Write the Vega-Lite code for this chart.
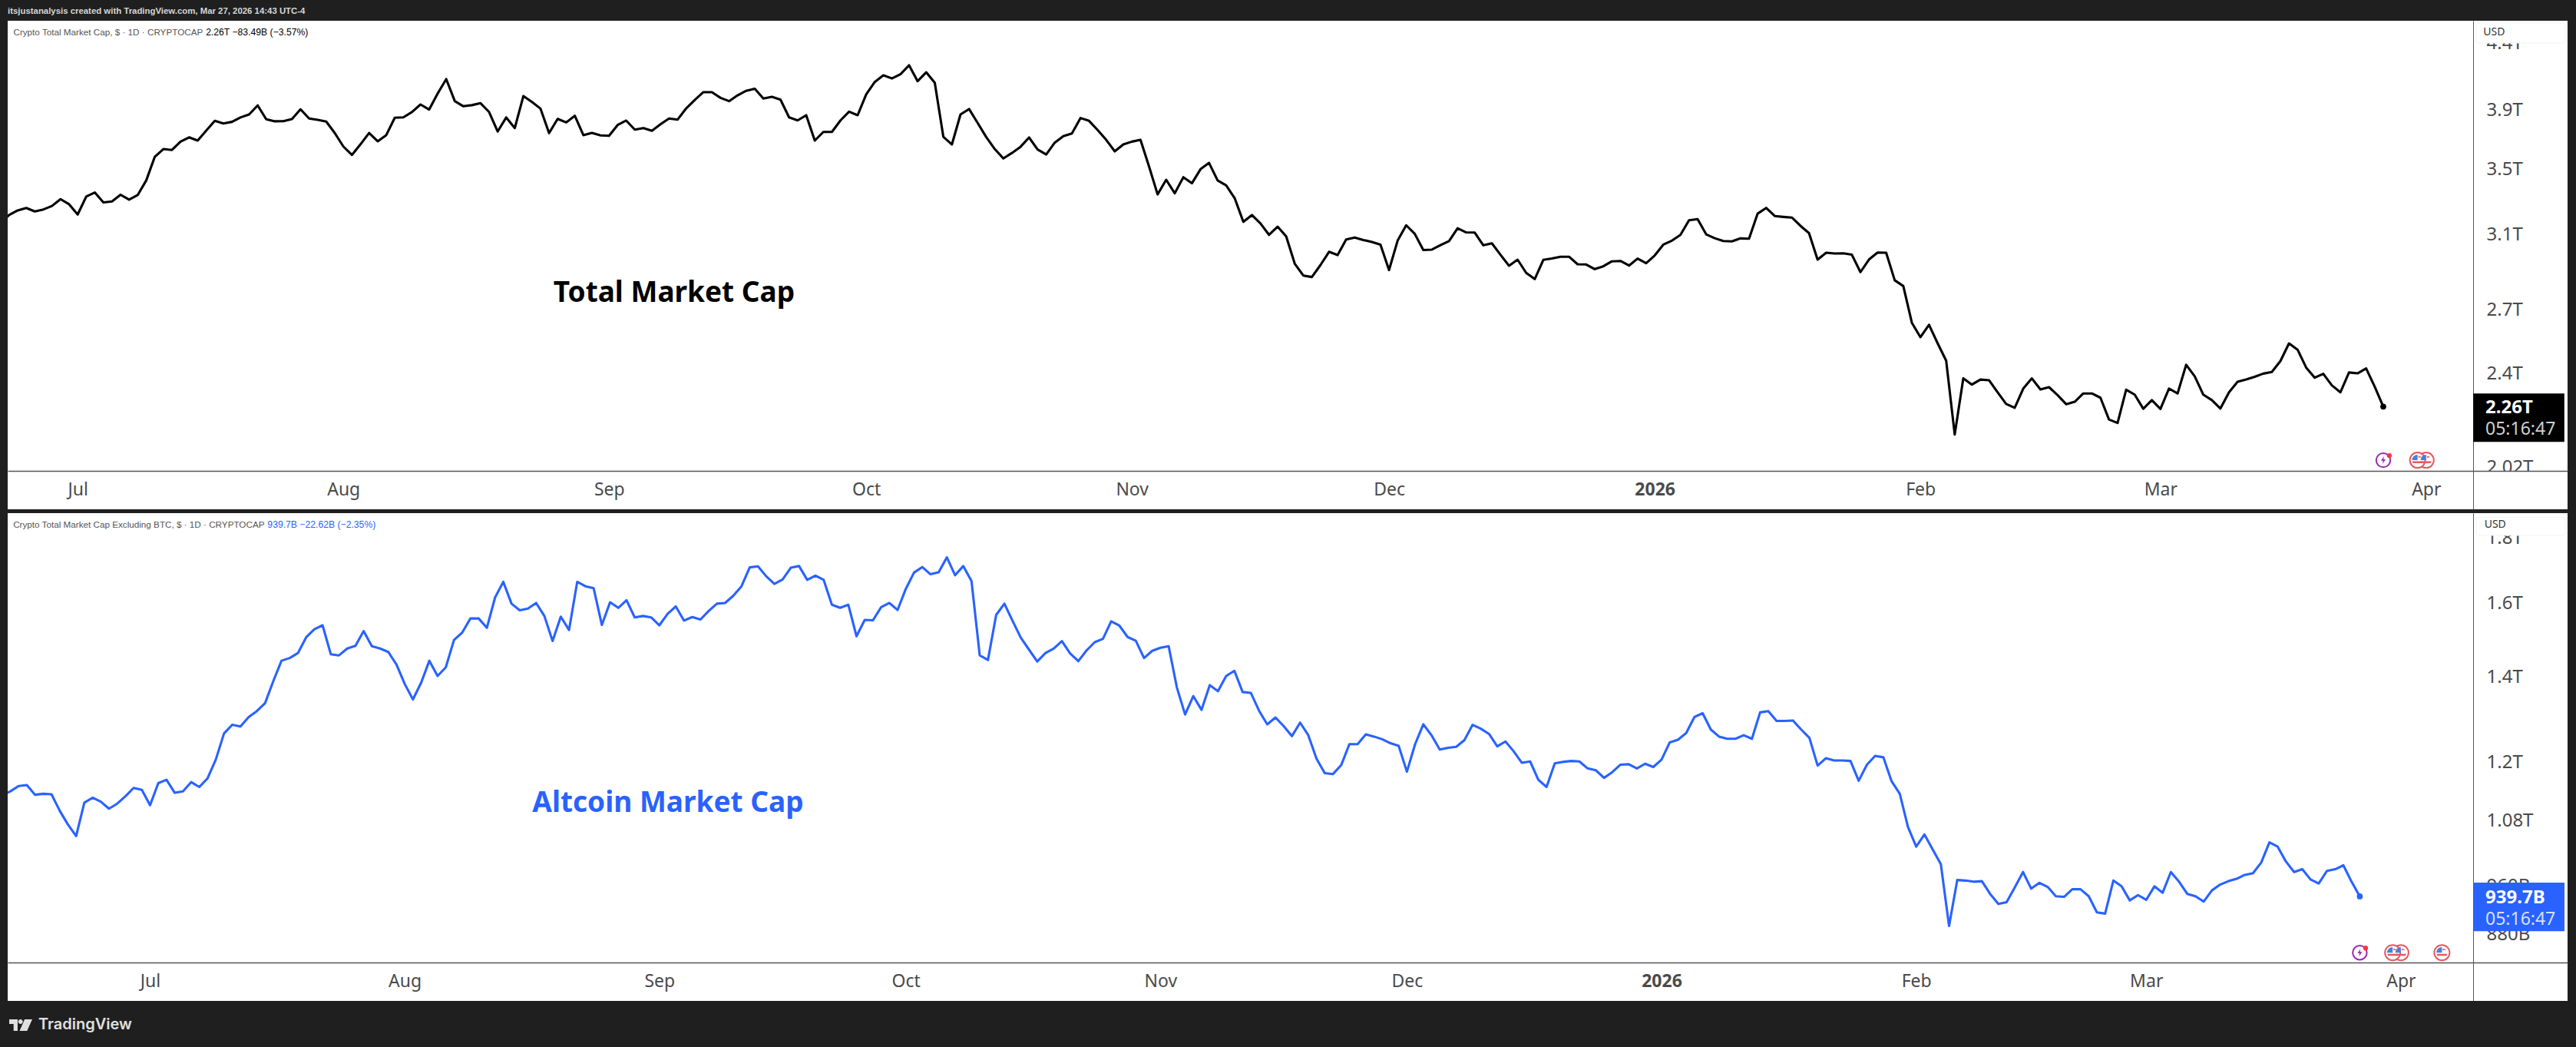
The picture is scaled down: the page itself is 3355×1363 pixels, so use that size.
{
"$schema":"https://vega.github.io/schema/vega-lite/v6.json",
"background":"#1f1f1f",
"padding":{"left":10,"right":11,"top":0,"bottom":0},
"spacing":5,
"config":{"view":{"stroke":null},"font":"Noto Sans"},
"datasets":{
"total":[
{"d":"2025-06-22","v":3.16},{"d":"2025-06-23","v":3.207},{"d":"2025-06-24","v":3.234},{"d":"2025-06-25","v":3.249},{"d":"2025-06-26","v":3.228},{"d":"2025-06-27","v":3.24},{"d":"2025-06-28","v":3.261},{"d":"2025-06-29","v":3.302},{"d":"2025-06-30","v":3.271},
{"d":"2025-07-01","v":3.21},{"d":"2025-07-02","v":3.318},{"d":"2025-07-03","v":3.343},{"d":"2025-07-04","v":3.282},{"d":"2025-07-05","v":3.288},{"d":"2025-07-06","v":3.329},{"d":"2025-07-07","v":3.299},{"d":"2025-07-08","v":3.327},{"d":"2025-07-09","v":3.418},{"d":"2025-07-10","v":3.57},{"d":"2025-07-11","v":3.621},{"d":"2025-07-12","v":3.615},{"d":"2025-07-13","v":3.671},{"d":"2025-07-14","v":3.7},{"d":"2025-07-15","v":3.678},{"d":"2025-07-16","v":3.746},{"d":"2025-07-17","v":3.814},{"d":"2025-07-18","v":3.796},{"d":"2025-07-19","v":3.807},{"d":"2025-07-20","v":3.838},{"d":"2025-07-21","v":3.859},{"d":"2025-07-22","v":3.924},{"d":"2025-07-23","v":3.825},{"d":"2025-07-24","v":3.811},{"d":"2025-07-25","v":3.812},{"d":"2025-07-26","v":3.827},{"d":"2025-07-27","v":3.896},{"d":"2025-07-28","v":3.831},{"d":"2025-07-29","v":3.821},{"d":"2025-07-30","v":3.809},{"d":"2025-07-31","v":3.729},
{"d":"2025-08-01","v":3.638},{"d":"2025-08-02","v":3.582},{"d":"2025-08-03","v":3.653},{"d":"2025-08-04","v":3.73},{"d":"2025-08-05","v":3.673},{"d":"2025-08-06","v":3.715},{"d":"2025-08-07","v":3.836},{"d":"2025-08-08","v":3.839},{"d":"2025-08-09","v":3.876},{"d":"2025-08-10","v":3.931},{"d":"2025-08-11","v":3.894},{"d":"2025-08-12","v":4.011},{"d":"2025-08-13","v":4.119},{"d":"2025-08-14","v":3.955},{"d":"2025-08-15","v":3.918},{"d":"2025-08-16","v":3.926},{"d":"2025-08-17","v":3.94},{"d":"2025-08-18","v":3.877},{"d":"2025-08-19","v":3.74},{"d":"2025-08-20","v":3.838},{"d":"2025-08-21","v":3.764},{"d":"2025-08-22","v":3.992},{"d":"2025-08-23","v":3.949},{"d":"2025-08-24","v":3.901},{"d":"2025-08-25","v":3.729},{"d":"2025-08-26","v":3.828},{"d":"2025-08-27","v":3.803},{"d":"2025-08-28","v":3.85},{"d":"2025-08-29","v":3.715},{"d":"2025-08-30","v":3.73},{"d":"2025-08-31","v":3.713},
{"d":"2025-09-01","v":3.711},{"d":"2025-09-02","v":3.785},{"d":"2025-09-03","v":3.816},{"d":"2025-09-04","v":3.753},{"d":"2025-09-05","v":3.764},{"d":"2025-09-06","v":3.745},{"d":"2025-09-07","v":3.79},{"d":"2025-09-08","v":3.831},{"d":"2025-09-09","v":3.823},{"d":"2025-09-10","v":3.903},{"d":"2025-09-11","v":3.964},{"d":"2025-09-12","v":4.021},{"d":"2025-09-13","v":4.021},{"d":"2025-09-14","v":3.979},{"d":"2025-09-15","v":3.955},{"d":"2025-09-16","v":3.998},{"d":"2025-09-17","v":4.031},{"d":"2025-09-18","v":4.046},{"d":"2025-09-19","v":3.974},{"d":"2025-09-20","v":3.987},{"d":"2025-09-21","v":3.966},{"d":"2025-09-22","v":3.839},{"d":"2025-09-23","v":3.817},{"d":"2025-09-24","v":3.854},{"d":"2025-09-25","v":3.678},{"d":"2025-09-26","v":3.737},{"d":"2025-09-27","v":3.737},{"d":"2025-09-28","v":3.817},{"d":"2025-09-29","v":3.879},{"d":"2025-09-30","v":3.854},
{"d":"2025-10-01","v":4.005},{"d":"2025-10-02","v":4.097},{"d":"2025-10-03","v":4.148},{"d":"2025-10-04","v":4.124},{"d":"2025-10-05","v":4.156},{"d":"2025-10-06","v":4.225},{"d":"2025-10-07","v":4.103},{"d":"2025-10-08","v":4.171},{"d":"2025-10-09","v":4.091},{"d":"2025-10-10","v":3.704},{"d":"2025-10-11","v":3.652},{"d":"2025-10-12","v":3.859},{"d":"2025-10-13","v":3.898},{"d":"2025-10-14","v":3.8},{"d":"2025-10-15","v":3.702},{"d":"2025-10-16","v":3.621},{"d":"2025-10-17","v":3.559},{"d":"2025-10-18","v":3.595},{"d":"2025-10-19","v":3.636},{"d":"2025-10-20","v":3.699},{"d":"2025-10-21","v":3.618},{"d":"2025-10-22","v":3.585},{"d":"2025-10-23","v":3.664},{"d":"2025-10-24","v":3.708},{"d":"2025-10-25","v":3.726},{"d":"2025-10-26","v":3.834},{"d":"2025-10-27","v":3.814},{"d":"2025-10-28","v":3.75},{"d":"2025-10-29","v":3.683},{"d":"2025-10-30","v":3.606},{"d":"2025-10-31","v":3.652},
{"d":"2025-11-01","v":3.671},{"d":"2025-11-02","v":3.683},{"d":"2025-11-03","v":3.507},{"d":"2025-11-04","v":3.331},{"d":"2025-11-05","v":3.422},{"d":"2025-11-06","v":3.338},{"d":"2025-11-07","v":3.438},{"d":"2025-11-08","v":3.4},{"d":"2025-11-09","v":3.489},{"d":"2025-11-10","v":3.53},{"d":"2025-11-11","v":3.418},{"d":"2025-11-12","v":3.387},{"d":"2025-11-13","v":3.307},{"d":"2025-11-14","v":3.167},{"d":"2025-11-15","v":3.207},{"d":"2025-11-16","v":3.158},{"d":"2025-11-17","v":3.092},{"d":"2025-11-18","v":3.139},{"d":"2025-11-19","v":3.083},{"d":"2025-11-20","v":2.932},{"d":"2025-11-21","v":2.869},{"d":"2025-11-22","v":2.861},{"d":"2025-11-23","v":2.925},{"d":"2025-11-24","v":2.997},{"d":"2025-11-25","v":2.979},{"d":"2025-11-26","v":3.066},{"d":"2025-11-27","v":3.077},{"d":"2025-11-28","v":3.063},{"d":"2025-11-29","v":3.052},{"d":"2025-11-30","v":3.037},
{"d":"2025-12-01","v":2.898},{"d":"2025-12-02","v":3.059},{"d":"2025-12-03","v":3.147},{"d":"2025-12-04","v":3.098},{"d":"2025-12-05","v":3.007},{"d":"2025-12-06","v":3.009},{"d":"2025-12-07","v":3.034},{"d":"2025-12-08","v":3.057},{"d":"2025-12-09","v":3.13},{"d":"2025-12-10","v":3.106},{"d":"2025-12-11","v":3.105},{"d":"2025-12-12","v":3.033},{"d":"2025-12-13","v":3.044},{"d":"2025-12-14","v":2.981},{"d":"2025-12-15","v":2.921},{"d":"2025-12-16","v":2.954},{"d":"2025-12-17","v":2.883},{"d":"2025-12-18","v":2.85},{"d":"2025-12-19","v":2.953},{"d":"2025-12-20","v":2.96},{"d":"2025-12-21","v":2.97},{"d":"2025-12-22","v":2.97},{"d":"2025-12-23","v":2.929},{"d":"2025-12-24","v":2.928},{"d":"2025-12-25","v":2.903},{"d":"2025-12-26","v":2.918},{"d":"2025-12-27","v":2.945},{"d":"2025-12-28","v":2.947},{"d":"2025-12-29","v":2.922},{"d":"2025-12-30","v":2.96},{"d":"2025-12-31","v":2.935},
{"d":"2026-01-01","v":2.977},{"d":"2026-01-02","v":3.037},{"d":"2026-01-03","v":3.059},{"d":"2026-01-04","v":3.092},{"d":"2026-01-05","v":3.176},{"d":"2026-01-06","v":3.183},{"d":"2026-01-07","v":3.095},{"d":"2026-01-08","v":3.073},{"d":"2026-01-09","v":3.057},{"d":"2026-01-10","v":3.055},{"d":"2026-01-11","v":3.072},{"d":"2026-01-12","v":3.07},{"d":"2026-01-13","v":3.215},{"d":"2026-01-14","v":3.249},{"d":"2026-01-15","v":3.201},{"d":"2026-01-16","v":3.196},{"d":"2026-01-17","v":3.192},{"d":"2026-01-18","v":3.144},{"d":"2026-01-19","v":3.102},{"d":"2026-01-20","v":2.954},{"d":"2026-01-21","v":2.992},{"d":"2026-01-22","v":2.988},{"d":"2026-01-23","v":2.989},{"d":"2026-01-24","v":2.981},{"d":"2026-01-25","v":2.887},{"d":"2026-01-26","v":2.955},{"d":"2026-01-27","v":2.993},{"d":"2026-01-28","v":2.992},{"d":"2026-01-29","v":2.844},{"d":"2026-01-30","v":2.814},{"d":"2026-01-31","v":2.63},
{"d":"2026-02-01","v":2.561},{"d":"2026-02-02","v":2.62},{"d":"2026-02-03","v":2.533},{"d":"2026-02-04","v":2.453},{"d":"2026-02-05","v":2.141},{"d":"2026-02-06","v":2.374},{"d":"2026-02-07","v":2.347},{"d":"2026-02-08","v":2.369},{"d":"2026-02-09","v":2.366},{"d":"2026-02-10","v":2.314},{"d":"2026-02-11","v":2.265},{"d":"2026-02-12","v":2.249},{"d":"2026-02-13","v":2.33},{"d":"2026-02-14","v":2.374},{"d":"2026-02-15","v":2.326},{"d":"2026-02-16","v":2.336},{"d":"2026-02-17","v":2.302},{"d":"2026-02-18","v":2.264},{"d":"2026-02-19","v":2.274},{"d":"2026-02-20","v":2.309},{"d":"2026-02-21","v":2.309},{"d":"2026-02-22","v":2.291},{"d":"2026-02-23","v":2.201},{"d":"2026-02-24","v":2.187},{"d":"2026-02-25","v":2.325},{"d":"2026-02-26","v":2.304},{"d":"2026-02-27","v":2.245},{"d":"2026-02-28","v":2.281},
{"d":"2026-03-01","v":2.244},{"d":"2026-03-02","v":2.33},{"d":"2026-03-03","v":2.309},{"d":"2026-03-04","v":2.434},{"d":"2026-03-05","v":2.383},{"d":"2026-03-06","v":2.304},{"d":"2026-03-07","v":2.281},{"d":"2026-03-08","v":2.246},{"d":"2026-03-09","v":2.314},{"d":"2026-03-10","v":2.359},{"d":"2026-03-11","v":2.369},{"d":"2026-03-12","v":2.381},{"d":"2026-03-13","v":2.395},{"d":"2026-03-14","v":2.402},{"d":"2026-03-15","v":2.451},{"d":"2026-03-16","v":2.532},{"d":"2026-03-17","v":2.503},{"d":"2026-03-18","v":2.422},{"d":"2026-03-19","v":2.377},{"d":"2026-03-20","v":2.394},{"d":"2026-03-21","v":2.344},{"d":"2026-03-22","v":2.314},{"d":"2026-03-23","v":2.4},{"d":"2026-03-24","v":2.396},{"d":"2026-03-25","v":2.418},{"d":"2026-03-26","v":2.338},{"d":"2026-03-27","v":2.254}
],
"alt":[
{"d":"2025-06-13","v":1.128},{"d":"2025-06-14","v":1.136},{"d":"2025-06-15","v":1.147},{"d":"2025-06-16","v":1.149},{"d":"2025-06-17","v":1.129},{"d":"2025-06-18","v":1.131},{"d":"2025-06-19","v":1.13},{"d":"2025-06-20","v":1.097},{"d":"2025-06-21","v":1.07},{"d":"2025-06-22","v":1.048},{"d":"2025-06-23","v":1.113},{"d":"2025-06-24","v":1.123},{"d":"2025-06-25","v":1.115},{"d":"2025-06-26","v":1.101},{"d":"2025-06-27","v":1.111},{"d":"2025-06-28","v":1.126},{"d":"2025-06-29","v":1.143},{"d":"2025-06-30","v":1.139},
{"d":"2025-07-01","v":1.108},{"d":"2025-07-02","v":1.153},{"d":"2025-07-03","v":1.16},{"d":"2025-07-04","v":1.133},{"d":"2025-07-05","v":1.136},{"d":"2025-07-06","v":1.155},{"d":"2025-07-07","v":1.145},{"d":"2025-07-08","v":1.163},{"d":"2025-07-09","v":1.203},{"d":"2025-07-10","v":1.261},{"d":"2025-07-11","v":1.281},{"d":"2025-07-12","v":1.277},{"d":"2025-07-13","v":1.299},{"d":"2025-07-14","v":1.313},{"d":"2025-07-15","v":1.332},{"d":"2025-07-16","v":1.386},{"d":"2025-07-17","v":1.438},{"d":"2025-07-18","v":1.445},{"d":"2025-07-19","v":1.458},{"d":"2025-07-20","v":1.5},{"d":"2025-07-21","v":1.522},{"d":"2025-07-22","v":1.533},{"d":"2025-07-23","v":1.455},{"d":"2025-07-24","v":1.452},{"d":"2025-07-25","v":1.47},{"d":"2025-07-26","v":1.477},{"d":"2025-07-27","v":1.517},{"d":"2025-07-28","v":1.476},{"d":"2025-07-29","v":1.47},{"d":"2025-07-30","v":1.461},{"d":"2025-07-31","v":1.428},
{"d":"2025-08-01","v":1.379},{"d":"2025-08-02","v":1.341},{"d":"2025-08-03","v":1.382},{"d":"2025-08-04","v":1.438},{"d":"2025-08-05","v":1.399},{"d":"2025-08-06","v":1.421},{"d":"2025-08-07","v":1.493},{"d":"2025-08-08","v":1.513},{"d":"2025-08-09","v":1.552},{"d":"2025-08-10","v":1.552},{"d":"2025-08-11","v":1.526},{"d":"2025-08-12","v":1.612},{"d":"2025-08-13","v":1.658},{"d":"2025-08-14","v":1.594},{"d":"2025-08-15","v":1.575},{"d":"2025-08-16","v":1.58},{"d":"2025-08-17","v":1.596},{"d":"2025-08-18","v":1.559},{"d":"2025-08-19","v":1.49},{"d":"2025-08-20","v":1.557},{"d":"2025-08-21","v":1.52},{"d":"2025-08-22","v":1.658},{"d":"2025-08-23","v":1.645},{"d":"2025-08-24","v":1.639},{"d":"2025-08-25","v":1.534},{"d":"2025-08-26","v":1.598},{"d":"2025-08-27","v":1.582},{"d":"2025-08-28","v":1.604},{"d":"2025-08-29","v":1.555},{"d":"2025-08-30","v":1.559},{"d":"2025-08-31","v":1.555},
{"d":"2025-09-01","v":1.533},{"d":"2025-09-02","v":1.565},{"d":"2025-09-03","v":1.586},{"d":"2025-09-04","v":1.546},{"d":"2025-09-05","v":1.556},{"d":"2025-09-06","v":1.549},{"d":"2025-09-07","v":1.573},{"d":"2025-09-08","v":1.594},{"d":"2025-09-09","v":1.596},{"d":"2025-09-10","v":1.617},{"d":"2025-09-11","v":1.645},{"d":"2025-09-12","v":1.702},{"d":"2025-09-13","v":1.705},{"d":"2025-09-14","v":1.675},{"d":"2025-09-15","v":1.652},{"d":"2025-09-16","v":1.665},{"d":"2025-09-17","v":1.701},{"d":"2025-09-18","v":1.706},{"d":"2025-09-19","v":1.664},{"d":"2025-09-20","v":1.677},{"d":"2025-09-21","v":1.664},{"d":"2025-09-22","v":1.591},{"d":"2025-09-23","v":1.582},
{"d":"2025-09-24","v":1.591},{"d":"2025-09-25","v":1.503},{"d":"2025-09-26","v":1.548},{"d":"2025-09-27","v":1.547},{"d":"2025-09-28","v":1.584},{"d":"2025-09-29","v":1.596},{"d":"2025-09-30","v":1.576},
{"d":"2025-10-01","v":1.637},{"d":"2025-10-02","v":1.686},{"d":"2025-10-03","v":1.703},{"d":"2025-10-04","v":1.681},{"d":"2025-10-05","v":1.687},{"d":"2025-10-06","v":1.733},{"d":"2025-10-07","v":1.678},{"d":"2025-10-08","v":1.706},{"d":"2025-10-09","v":1.66},{"d":"2025-10-10","v":1.452},{"d":"2025-10-11","v":1.44},{"d":"2025-10-12","v":1.562},{"d":"2025-10-13","v":1.594},{"d":"2025-10-14","v":1.545},{"d":"2025-10-15","v":1.499},{"d":"2025-10-16","v":1.467},{"d":"2025-10-17","v":1.436},{"d":"2025-10-18","v":1.458},{"d":"2025-10-19","v":1.47},{"d":"2025-10-20","v":1.49},{"d":"2025-10-21","v":1.457},{"d":"2025-10-22","v":1.437},{"d":"2025-10-23","v":1.465},{"d":"2025-10-24","v":1.487},{"d":"2025-10-25","v":1.496},{"d":"2025-10-26","v":1.544},{"d":"2025-10-27","v":1.532},{"d":"2025-10-28","v":1.501},{"d":"2025-10-29","v":1.491},{"d":"2025-10-30","v":1.445},{"d":"2025-10-31","v":1.464},
{"d":"2025-11-01","v":1.472},{"d":"2025-11-02","v":1.476},{"d":"2025-11-03","v":1.37},{"d":"2025-11-04","v":1.305},{"d":"2025-11-05","v":1.349},{"d":"2025-11-06","v":1.316},{"d":"2025-11-07","v":1.376},{"d":"2025-11-08","v":1.361},{"d":"2025-11-09","v":1.399},{"d":"2025-11-10","v":1.412},{"d":"2025-11-11","v":1.359},{"d":"2025-11-12","v":1.357},{"d":"2025-11-13","v":1.314},{"d":"2025-11-14","v":1.282},{"d":"2025-11-15","v":1.298},{"d":"2025-11-16","v":1.278},{"d":"2025-11-17","v":1.255},{"d":"2025-11-18","v":1.286},{"d":"2025-11-19","v":1.257},{"d":"2025-11-20","v":1.205},{"d":"2025-11-21","v":1.174},{"d":"2025-11-22","v":1.172},{"d":"2025-11-23","v":1.191},{"d":"2025-11-24","v":1.237},{"d":"2025-11-25","v":1.237},{"d":"2025-11-26","v":1.259},{"d":"2025-11-27","v":1.254},{"d":"2025-11-28","v":1.248},{"d":"2025-11-29","v":1.239},{"d":"2025-11-30","v":1.233},
{"d":"2025-12-01","v":1.177},{"d":"2025-12-02","v":1.237},{"d":"2025-12-03","v":1.282},{"d":"2025-12-04","v":1.257},{"d":"2025-12-05","v":1.225},{"d":"2025-12-06","v":1.229},{"d":"2025-12-07","v":1.231},{"d":"2025-12-08","v":1.246},{"d":"2025-12-09","v":1.281},{"d":"2025-12-10","v":1.272},{"d":"2025-12-11","v":1.26},{"d":"2025-12-12","v":1.232},{"d":"2025-12-13","v":1.243},{"d":"2025-12-14","v":1.221},{"d":"2025-12-15","v":1.196},{"d":"2025-12-16","v":1.199},{"d":"2025-12-17","v":1.16},{"d":"2025-12-18","v":1.145},{"d":"2025-12-19","v":1.195},{"d":"2025-12-20","v":1.198},{"d":"2025-12-21","v":1.2},{"d":"2025-12-22","v":1.199},{"d":"2025-12-23","v":1.184},{"d":"2025-12-24","v":1.18},{"d":"2025-12-25","v":1.164},{"d":"2025-12-26","v":1.176},{"d":"2025-12-27","v":1.192},{"d":"2025-12-28","v":1.193},{"d":"2025-12-29","v":1.184},{"d":"2025-12-30","v":1.194},{"d":"2025-12-31","v":1.187},
{"d":"2026-01-01","v":1.203},{"d":"2026-01-02","v":1.241},{"d":"2026-01-03","v":1.247},{"d":"2026-01-04","v":1.262},{"d":"2026-01-05","v":1.299},{"d":"2026-01-06","v":1.308},{"d":"2026-01-07","v":1.27},{"d":"2026-01-08","v":1.254},{"d":"2026-01-09","v":1.249},{"d":"2026-01-10","v":1.249},{"d":"2026-01-11","v":1.257},{"d":"2026-01-12","v":1.249},{"d":"2026-01-13","v":1.31},{"d":"2026-01-14","v":1.313},{"d":"2026-01-15","v":1.29},{"d":"2026-01-16","v":1.29},{"d":"2026-01-17","v":1.291},{"d":"2026-01-18","v":1.27},{"d":"2026-01-19","v":1.251},{"d":"2026-01-20","v":1.19},{"d":"2026-01-21","v":1.206},{"d":"2026-01-22","v":1.201},{"d":"2026-01-23","v":1.201},{"d":"2026-01-24","v":1.2},{"d":"2026-01-25","v":1.158},{"d":"2026-01-26","v":1.192},{"d":"2026-01-27","v":1.211},{"d":"2026-01-28","v":1.208},{"d":"2026-01-29","v":1.157},{"d":"2026-01-30","v":1.131},{"d":"2026-01-31","v":1.065},
{"d":"2026-02-01","v":1.028},{"d":"2026-02-02","v":1.051},{"d":"2026-02-03","v":1.023},{"d":"2026-02-04","v":0.996},{"d":"2026-02-05","v":0.891},{"d":"2026-02-06","v":0.968},{"d":"2026-02-07","v":0.967},{"d":"2026-02-08","v":0.965},{"d":"2026-02-09","v":0.966},{"d":"2026-02-10","v":0.944},{"d":"2026-02-11","v":0.927},{"d":"2026-02-12","v":0.93},{"d":"2026-02-13","v":0.955},{"d":"2026-02-14","v":0.982},{"d":"2026-02-15","v":0.953},{"d":"2026-02-16","v":0.963},{"d":"2026-02-17","v":0.956},{"d":"2026-02-18","v":0.94},{"d":"2026-02-19","v":0.939},{"d":"2026-02-20","v":0.952},{"d":"2026-02-21","v":0.952},{"d":"2026-02-22","v":0.94},{"d":"2026-02-23","v":0.913},{"d":"2026-02-24","v":0.911},{"d":"2026-02-25","v":0.967},{"d":"2026-02-26","v":0.957},{"d":"2026-02-27","v":0.933},{"d":"2026-02-28","v":0.942},
{"d":"2026-03-01","v":0.934},{"d":"2026-03-02","v":0.957},{"d":"2026-03-03","v":0.946},{"d":"2026-03-04","v":0.982},{"d":"2026-03-05","v":0.965},{"d":"2026-03-06","v":0.944},{"d":"2026-03-07","v":0.94},{"d":"2026-03-08","v":0.931},{"d":"2026-03-09","v":0.95},{"d":"2026-03-10","v":0.96},{"d":"2026-03-11","v":0.966},{"d":"2026-03-12","v":0.97},{"d":"2026-03-13","v":0.977},{"d":"2026-03-14","v":0.98},{"d":"2026-03-15","v":0.999},{"d":"2026-03-16","v":1.036},{"d":"2026-03-17","v":1.028},{"d":"2026-03-18","v":1.001},{"d":"2026-03-19","v":0.982},{"d":"2026-03-20","v":0.987},{"d":"2026-03-21","v":0.969},{"d":"2026-03-22","v":0.962},{"d":"2026-03-23","v":0.984},{"d":"2026-03-24","v":0.987},{"d":"2026-03-25","v":0.994},{"d":"2026-03-26","v":0.965},{"d":"2026-03-27","v":0.9397}
]
},
"vconcat":[
{"width":3334,"height":22,
 "data":{"values":[{"x":0,"y":0.32,"label":"itsjustanalysis created with TradingView.com, Mar 27, 2026 14:43 UTC-4"}]},
 "mark":{"type":"text","align":"left","baseline":"middle","font":"Liberation Sans","fontSize":11.4,"fontWeight":"bold","color":"#d6d6d6"},
 "encoding":{"x":{"field":"x","type":"quantitative","axis":null,"scale":{"domain":[0,1],"nice":false}},"y":{"field":"y","type":"quantitative","axis":null,"scale":{"domain":[0,1],"nice":false}},"text":{"field":"label"}}},
{"width":3334,"height":636,"view":{"fill":"#ffffff","stroke":null},
 "encoding":{
  "x":{"field":"d","type":"temporal","title":null,"scale":{"type":"utc","domain":["2025-06-22T20:00:00Z","2026-04-17T12:00:00Z"],"nice":false},
   "axis":{"values":["2025-07-01","2025-08-01","2025-09-01","2025-10-01","2025-11-01","2025-12-01","2026-01-01","2026-02-01","2026-03-01","2026-04-01"],"offset":-50,"zindex":1,"ticks":false,"grid":false,"domainColor":"#555555","domainWidth":1.5,"labelPadding":13,"labelFontSize":23,"labelColor":"#4a4a4a","labelFontWeight":{"condition":{"test":"utcmonth(datum.value)==0","value":"bold"},"value":"normal"},"labelExpr":"utcmonth(datum.value)==0 ? '2026' : utcFormat(datum.value,'%b')","labelOverlap":false,"labelBound":false,"labelFlush":false,"title":null}},
  "y":{"field":"v","type":"quantitative","title":null,"scale":{"type":"log","domain":[1.8656,4.586],"nice":false},
   "axis":{"orient":"right","values":[2.02,2.4,2.7,3.1,3.5,3.9,4.41],"offset":-123,"ticks":false,"grid":false,"domainColor":"#555555","domainWidth":1,"labelPadding":17,"labelOffset":2,"labelFontSize":24,"labelColor":"#4a4a4a","labelExpr":"datum.value==4.41 ? '4.4T' : datum.value+'T'","labelOverlap":false,"labelBound":false,"labelFlush":false,"title":null}}
 },
 "layer":[
  {"data":{"values":[{"d":"2026-04-07T00:00:00Z","d2":"2026-04-17T12:00:00Z","v":2.0026,"v2":1.8656}]},"mark":{"type":"rect","fill":"#ffffff"},"encoding":{"x2":{"field":"d2"},"y2":{"field":"v2"}}},
  {"data":{"values":[{"d":"2026-04-06T20:00:00Z","d2":"2026-04-17T05:00:00Z","v":4.567,"v2":4.402}]},"mark":{"type":"rect","fill":"#ffffff","stroke":"#f2f2f2","strokeWidth":1,"cornerRadius":3},"encoding":{"x2":{"field":"d2"},"y2":{"field":"v2"}}},
  {"data":{"values":[{"d":"2026-04-07T16:00:00Z","v":4.49,"label":"USD"}]},"mark":{"type":"text","align":"left","baseline":"middle","fontSize":14,"color":"#333333"},"encoding":{"text":{"field":"label"}}},
  {"data":{"name":"total"},"mark":{"type":"line","color":"#000000","strokeWidth":3.1,"strokeJoin":"round","clip":true}},
  {"data":{"values":[{"d":"2026-03-27","v":2.254}]},"mark":{"type":"point","filled":true,"color":"#000000","size":60,"opacity":1}},
  {"data":{"values":[{"d":"2026-04-06T12:00:00Z","d2":"2026-04-17T03:00:00Z","v":2.309,"v2":2.112}]},"mark":{"type":"rect","fill":"#000000"},"encoding":{"x2":{"field":"d2"},"y2":{"field":"v2"}}},
  {"data":{"values":[{"d":"2026-04-07T22:00:00Z","v":2.254,"label":"2.26T"}]},"mark":{"type":"text","align":"left","baseline":"middle","dy":2,"fontSize":24,"fontWeight":"bold","color":"#ffffff"},"encoding":{"text":{"field":"label"}}},
  {"data":{"values":[{"d":"2026-04-07T22:00:00Z","v":2.167,"label":"05:16:47"}]},"mark":{"type":"text","align":"left","baseline":"middle","dy":2,"fontSize":23,"color":"#d0d0d0"},"encoding":{"text":{"field":"label"}}},
  {"data":{"values":[{"d":"2025-06-23T12:00:00Z","v":4.49,"label":"Crypto Total Market Cap, $ · 1D · CRYPTOCAP"}]},"mark":{"type":"text","align":"left","baseline":"middle","font":"Liberation Sans","fontSize":11.7,"color":"#555555"},"encoding":{"text":{"field":"label"}}},
  {"data":{"values":[{"d":"2025-07-15T23:00:00Z","v":4.49,"label":"2.26T  −83.49B (−3.57%)"}]},"mark":{"type":"text","align":"left","baseline":"middle","font":"Liberation Sans","fontSize":12.2,"color":"#000000"},"encoding":{"text":{"field":"label"}}},
  {"data":{"values":[{"d":"2025-09-08T14:00:00Z","v":2.775,"label":"Total Market Cap"}]},"mark":{"type":"text","align":"center","baseline":"middle","fontSize":37,"fontWeight":"bold","color":"#000000"},"encoding":{"text":{"field":"label"}}},
  {"data":{"values":[{"d":"2026-03-27","v":2.042}]},"mark":{"type":"point","shape":"circle","size":340,"filled":false,"stroke":"#9c27b0","strokeWidth":2,"opacity":1}},
  {"data":{"values":[{"d":"2026-03-27","v":2.042}]},"mark":{"type":"point","shape":"M0.2,-1 L-0.6,0.15 L-0.05,0.15 L-0.2,1 L0.6,-0.2 L0.05,-0.2 Z","size":100,"filled":true,"fill":"#9c27b0","strokeWidth":0,"opacity":1}},
  {"data":{"values":[{"d":"2026-03-27T17:00:00Z","v":2.0596}]},"mark":{"type":"point","shape":"circle","size":40,"filled":true,"fill":"#f23645","strokeWidth":0,"opacity":1}},
  {"data":{"values":[{"d":"2026-04-01","v":2.042},{"d":"2026-03-31","v":2.042}]},"mark":{"type":"point","shape":"circle","size":400,"filled":true,"fill":"#ffffff","stroke":"#e8585f","strokeWidth":2,"opacity":1}},
  {"data":{"values":[{"d":"2026-04-01","v":2.042},{"d":"2026-03-31","v":2.042}]},"mark":{"type":"point","shape":"M-0.72,0 L0,0 L0,-0.72 A0.72,0.72 0 0,0 -0.72,0 Z","size":400,"filled":true,"fill":"#4a7fd8","strokeWidth":0,"opacity":1}},
  {"data":{"values":[{"d":"2026-04-01","v":2.042},{"d":"2026-03-31","v":2.042}]},"mark":{"type":"point","shape":"M0.1,-0.55 L0.6,-0.4 L0.1,-0.3 Z M-0.7,0.15 L0.7,0.15 L0.6,0.4 L-0.6,0.4 Z","size":400,"filled":true,"fill":"#e8585f","strokeWidth":0,"opacity":1}}
 ]},
{"width":3334,"height":635,"view":{"fill":"#ffffff","stroke":null},
 "encoding":{
  "x":{"field":"d","type":"temporal","title":null,"scale":{"type":"utc","domain":["2025-06-13T16:00:00Z","2026-04-21T07:00:00Z"],"nice":false},
   "axis":{"values":["2025-07-01","2025-08-01","2025-09-01","2025-10-01","2025-11-01","2025-12-01","2026-01-01","2026-02-01","2026-03-01","2026-04-01"],"offset":-50,"zindex":1,"ticks":false,"grid":false,"domainColor":"#555555","domainWidth":1.5,"labelPadding":13,"labelFontSize":23,"labelColor":"#4a4a4a","labelFontWeight":{"condition":{"test":"utcmonth(datum.value)==0","value":"bold"},"value":"normal"},"labelExpr":"utcmonth(datum.value)==0 ? '2026' : utcFormat(datum.value,'%b')","labelOverlap":false,"labelBound":false,"labelFlush":false,"title":null}},
  "y":{"field":"v","type":"quantitative","title":null,"scale":{"type":"log","domain":[0.7782,1.877],"nice":false},
   "axis":{"orient":"right","values":[0.88,0.96,1.08,1.2,1.4,1.6,1.8],"offset":-123,"ticks":false,"grid":false,"domainColor":"#555555","domainWidth":1,"labelPadding":17,"labelOffset":2,"labelFontSize":24,"labelColor":"#4a4a4a","labelExpr":"datum.value>=1 ? datum.value+'T' : round(datum.value*1000)+'B'","labelOverlap":false,"labelBound":false,"labelFlush":false,"title":null}}
 },
 "layer":[
  {"data":{"values":[{"d":"2026-04-10T04:00:00Z","d2":"2026-04-21T00:00:00Z","v":1.864,"v2":1.803}]},"mark":{"type":"rect","fill":"#ffffff","stroke":"#f2f2f2","strokeWidth":1,"cornerRadius":3},"encoding":{"x2":{"field":"d2"},"y2":{"field":"v2"}}},
  {"data":{"values":[{"d":"2026-04-11T04:00:00Z","v":1.838,"label":"USD"}]},"mark":{"type":"text","align":"left","baseline":"middle","fontSize":14,"color":"#333333"},"encoding":{"text":{"field":"label"}}},
  {"data":{"name":"alt"},"mark":{"type":"line","color":"#2962ff","strokeWidth":3.1,"strokeJoin":"round","clip":true}},
  {"data":{"values":[{"d":"2026-03-27","v":0.9397}]},"mark":{"type":"point","filled":true,"color":"#2962ff","size":60,"opacity":1}},
  {"data":{"values":[{"d":"2026-04-09T20:00:00Z","d2":"2026-04-20T22:00:00Z","v":0.9633,"v2":0.8826}]},"mark":{"type":"rect","fill":"#2962ff"},"encoding":{"x2":{"field":"d2"},"y2":{"field":"v2"}}},
  {"data":{"values":[{"d":"2026-04-11T07:00:00Z","v":0.9394,"label":"939.7B"}]},"mark":{"type":"text","align":"left","baseline":"middle","dy":2,"fontSize":24,"fontWeight":"bold","color":"#ffffff"},"encoding":{"text":{"field":"label"}}},
  {"data":{"values":[{"d":"2026-04-11T07:00:00Z","v":0.9038,"label":"05:16:47"}]},"mark":{"type":"text","align":"left","baseline":"middle","dy":2,"fontSize":23,"color":"#d6e0ff"},"encoding":{"text":{"field":"label"}}},
  {"data":{"values":[{"d":"2025-06-14T08:00:00Z","v":1.838,"label":"Crypto Total Market Cap Excluding BTC, $ · 1D · CRYPTOCAP"}]},"mark":{"type":"text","align":"left","baseline":"middle","font":"Liberation Sans","fontSize":11.7,"color":"#555555"},"encoding":{"text":{"field":"label"}}},
  {"data":{"values":[{"d":"2025-07-15T07:00:00Z","v":1.838,"label":"939.7B  −22.62B (−2.35%)"}]},"mark":{"type":"text","align":"left","baseline":"middle","font":"Liberation Sans","fontSize":12.2,"color":"#2962ff"},"encoding":{"text":{"field":"label"}}},
  {"data":{"values":[{"d":"2025-09-02T01:00:00Z","v":1.111,"label":"Altcoin Market Cap"}]},"mark":{"type":"text","align":"center","baseline":"middle","fontSize":37,"fontWeight":"bold","color":"#2962ff"},"encoding":{"text":{"field":"label"}}},
  {"data":{"values":[{"d":"2026-03-27","v":0.849}]},"mark":{"type":"point","shape":"circle","size":340,"filled":false,"stroke":"#9c27b0","strokeWidth":2,"opacity":1}},
  {"data":{"values":[{"d":"2026-03-27","v":0.849}]},"mark":{"type":"point","shape":"M0.2,-1 L-0.6,0.15 L-0.05,0.15 L-0.2,1 L0.6,-0.2 L0.05,-0.2 Z","size":100,"filled":true,"fill":"#9c27b0","strokeWidth":0,"opacity":1}},
  {"data":{"values":[{"d":"2026-03-27T17:00:00Z","v":0.856}]},"mark":{"type":"point","shape":"circle","size":40,"filled":true,"fill":"#f23645","strokeWidth":0,"opacity":1}},
  {"data":{"values":[{"d":"2026-04-01","v":0.849},{"d":"2026-03-31","v":0.849},{"d":"2026-04-06","v":0.849}]},"mark":{"type":"point","shape":"circle","size":400,"filled":true,"fill":"#ffffff","stroke":"#e8585f","strokeWidth":2,"opacity":1}},
  {"data":{"values":[{"d":"2026-04-01","v":0.849},{"d":"2026-03-31","v":0.849},{"d":"2026-04-06","v":0.849}]},"mark":{"type":"point","shape":"M-0.72,0 L0,0 L0,-0.72 A0.72,0.72 0 0,0 -0.72,0 Z","size":400,"filled":true,"fill":"#4a7fd8","strokeWidth":0,"opacity":1}},
  {"data":{"values":[{"d":"2026-04-01","v":0.849},{"d":"2026-03-31","v":0.849},{"d":"2026-04-06","v":0.849}]},"mark":{"type":"point","shape":"M0.1,-0.55 L0.6,-0.4 L0.1,-0.3 Z M-0.7,0.15 L0.7,0.15 L0.6,0.4 L-0.6,0.4 Z","size":400,"filled":true,"fill":"#e8585f","strokeWidth":0,"opacity":1}}
 ]},
{"width":3334,"height":55,
 "encoding":{"x":{"field":"x","type":"quantitative","axis":null,"scale":{"domain":[0,1],"nice":false}},"y":{"field":"y","type":"quantitative","axis":null,"scale":{"domain":[0,1],"nice":false}}},
 "layer":[
  {"data":{"values":[{"x":0.0051,"y":0.52}]},"mark":{"type":"point","shape":"M-1,-0.5 L-0.27,-0.5 L-0.27,0.5 L-0.62,0.5 L-0.62,-0.1 L-1,-0.1 Z M0.34,-0.5 L1,-0.5 L0.55,0.5 L-0.1,0.5 Z M-0.22,-0.3 A0.2,0.2 0 1,0 0.18,-0.3 A0.2,0.2 0 1,0 -0.22,-0.3 Z","size":900,"filled":true,"fill":"#e0e0e0","strokeWidth":0,"opacity":1}},
  {"data":{"values":[{"x":0.012,"y":0.52,"label":"TradingView"}]},"mark":{"type":"text","align":"left","baseline":"middle","font":"Inter","fontSize":20,"fontWeight":600,"color":"#e0e0e0"},"encoding":{"text":{"field":"label"}}}
 ]}
]
}
